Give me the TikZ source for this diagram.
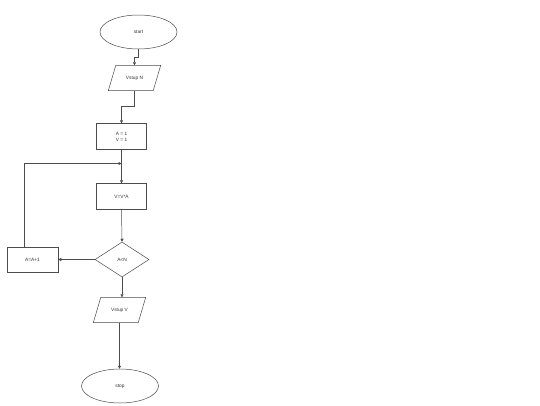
\documentclass[tikz,border=0pt]{standalone}
\usepackage{fontspec}
\setmainfont{Liberation Sans}
\usetikzlibrary{shapes.geometric,arrows.meta,calc}
\begin{document}
\begin{tikzpicture}[x=1pt,y=-1pt,
  lineclr/.style={draw=black!70, line width=0.5pt},
  txt/.style={font=\fontsize{4.8}{5.8}\selectfont, text=black!80, align=center},
  term/.style={ellipse, lineclr, txt, minimum width=77pt, minimum height=34pt, inner sep=0pt},
  procbox/.style={rectangle, lineclr, txt, minimum width=50pt, minimum height=26pt, inner sep=0pt},
  iobox/.style={rectangle, txt, minimum width=52pt, minimum height=25pt, inner sep=0pt},
  decis/.style={diamond, lineclr, txt, minimum width=54pt, minimum height=35pt, inner sep=0pt, aspect=1.54},
  arr/.style={lineclr, -{Triangle[length=3pt,width=3pt]}}
]
\useasboundingbox (0,0) rectangle (540,405);
\fill[white] (0,0) rectangle (540,405);

\node[term] (start) at (138.5,32) {start};
\node[iobox] (vn) at (134.5,78) {Vstup N};
\draw[lineclr] ($(vn.north west)+(7.5,0)$) -- ($(vn.north east)$) -- ($(vn.south east)+(-7.5,0)$) -- (vn.south west) -- cycle;
\node[procbox] (init) at (121.5,136.5) {A = 1\\V = 1};
\node[procbox] (mult) at (121.5,196.5) {V=V*A};
\node[decis] (cond) at (122,259.5) {A<N};
\node[procbox, minimum width=51pt, minimum height=25pt] (inc) at (32.5,259.5) {A=A+1};
\node[iobox] (vv) at (119.5,310) {Vstup V};
\draw[lineclr] ($(vv.north west)+(7.5,0)$) -- ($(vv.north east)$) -- ($(vv.south east)+(-7.5,0)$) -- (vv.south west) -- cycle;
\node[term] (stop) at (120,386) {stop};

\coordinate (j1) at (138.5,57.3);
\coordinate (j2) at (134.5,106.7);
\coordinate (loopin) at (121.5,163.5);

\draw[arr] (start.south) -- (j1) -| (vn.north);
\draw[arr] (vn.south) -- (j2) -| (init.north);
\draw[arr] (init.south) -- (mult.north);
\draw[arr] (mult.south) -- (cond.north);
\draw[arr] (cond.west) -- (inc.east);
\draw[arr] ([xshift=-8.5pt]inc.north) |- (loopin);
\draw[arr] (cond.south) -- (cond.south |- vv.north);
\draw[arr] (vv.south) -- (vv.south |- stop.north);
\end{tikzpicture}
\end{document}
